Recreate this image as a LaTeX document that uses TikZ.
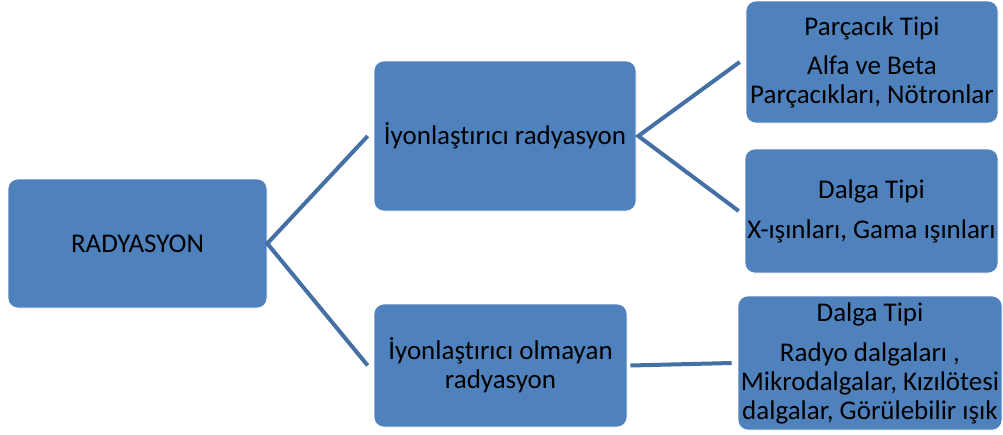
\documentclass[tikz,border=0pt]{standalone}
\usepackage{fontspec}
\setmainfont[Ligatures=NoCommon]{Carlito}
\definecolor{boxblue}{HTML}{4F81BD}
\definecolor{linkblue}{HTML}{4470A4}
\tikzset{
  box/.style={fill=boxblue, draw=white, line width=0.6pt, rounded corners=10pt,
    align=center, inner sep=0pt, text=black,
    font=\fontsize{27}{29}\selectfont},
  link/.style={draw=linkblue, line width=4pt}
}
\begin{document}
\begin{tikzpicture}[x=1pt, y=-1pt]
\useasboundingbox (0,0) rectangle (1003,434);
% main topic
\node[box, minimum width=259pt, minimum height=129pt] (rad) at (137.5,243.5) {RADYASYON};
% second level
\node[box, minimum width=262pt, minimum height=150pt] (iyon) at (505,136) {İyonlaştırıcı radyasyon};
\node[box, minimum width=253pt, minimum height=123pt] (noniyon) at (500.5,365.5) {İyonlaştırıcı olmayan\\radyasyon};
% third level
\node[box, minimum width=252pt, minimum height=122pt] (parca) at (872,62) {Parçacık Tipi\\[10pt]Alfa ve Beta\\Parçacıkları, Nötronlar};
\node[box, minimum width=253pt, minimum height=124pt] (dalga) at (871.5,211) {Dalga Tipi\\[11pt]X-ışınları, Gama ışınları};
\node[box, minimum width=264pt, minimum height=134pt] (dalgab) at (870,363) {Dalga Tipi\\[11pt]Radyo dalgaları ,\\Mikrodalgalar, Kızılötesi\\dalgalar, Görülebilir ışık};
% connectors
\coordinate (radR) at (rad.east);
\coordinate (iyonR) at ([xshift=2pt]iyon.east);
\coordinate (noniyonR) at ([xshift=3pt]noniyon.east);
\draw[link] ([xshift=-6pt]iyon.west) -- (radR) -- ([xshift=-6pt]noniyon.west);
\draw[link] ([xshift=-6pt]parca.west) -- (iyonR) -- ([xshift=-6pt]dalga.west);
\draw[link] (noniyonR) -- ([xshift=-6pt]dalgab.west);
\end{tikzpicture}
\end{document}
